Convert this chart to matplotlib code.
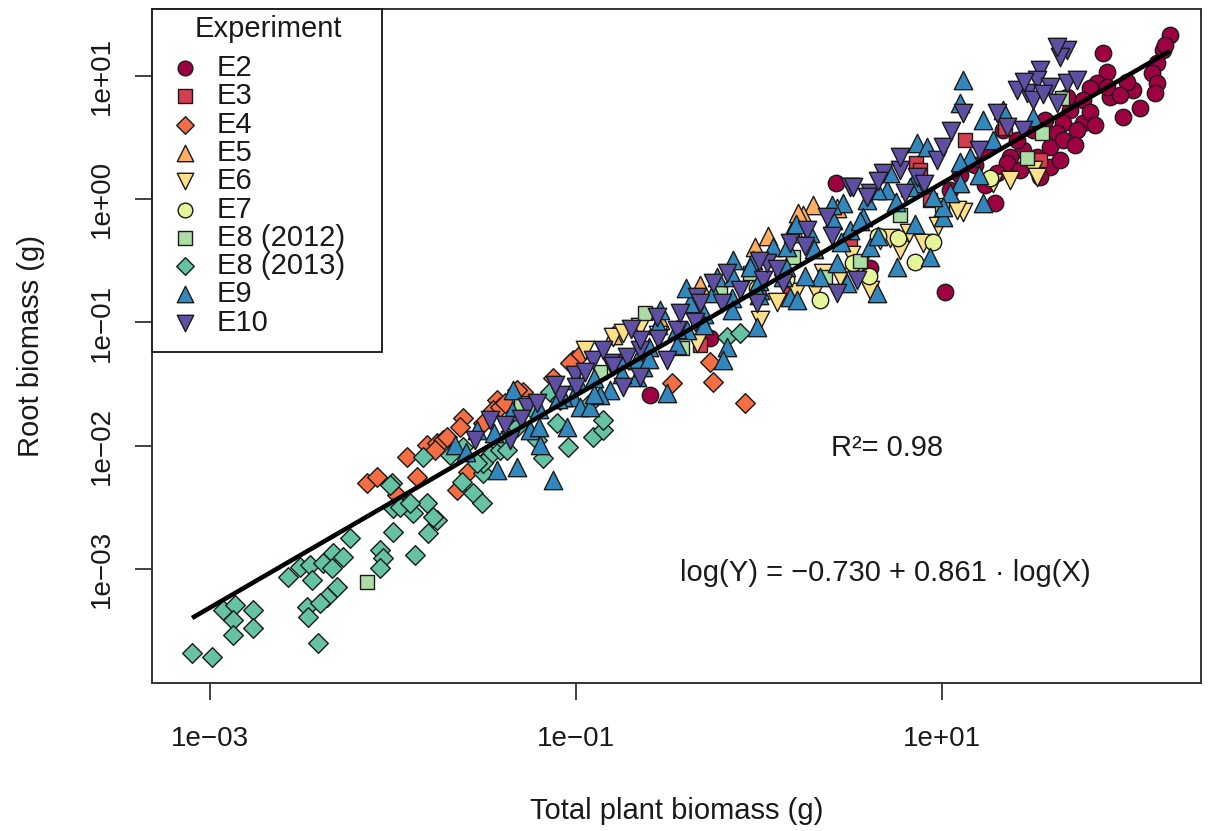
import numpy as np
import matplotlib
matplotlib.use('Agg')
import matplotlib.pyplot as plt
from matplotlib.patches import Rectangle

plt.rcParams['font.family'] = ['Liberation Sans', 'DejaVu Sans']

# ---------------- data (log10 total plant biomass, log10 root biomass) ----------------
experiments = ['E2', 'E3', 'E4', 'E5', 'E6', 'E7', 'E8 (2012)', 'E8 (2013)', 'E9', 'E10']
colors = ['#9E0142', '#D53E4F', '#F46D43', '#FDAE61', '#FEE08B',
          '#E6F598', '#ABDDA4', '#66C2A5', '#3288BD', '#5E4FA2']
markers = ['o', 's', 'D', '^', 'v', 'o', 's', 'D', '^', 'v']

E2_points = [(1.880, 1.187), (2.246, 1.333), (2.208, 1.211), (2.175, 1.105), (2.148, 1.024),
             (2.175, 0.943), (2.164, 0.862), (2.082, 0.740), (1.989, 0.667), (2.044, 0.886),
             (2.011, 0.951), (1.902, 1.032), (1.847, 0.943), (1.809, 0.903), (1.770, 0.805),
             (1.699, 0.724), (1.661, 0.619), (1.628, 0.538), (1.590, 0.424), (1.519, 0.343),
             (1.443, 0.400), (1.372, 0.343), (1.355, 0.294), (1.301, 0.213), (1.590, 0.262),
             (1.536, 0.181), (1.290, -0.030), (1.918, 0.830), (1.770, 0.619), (1.738, 0.562),
             (1.661, 0.481), (1.497, 0.562), (1.410, 0.481), (1.333, 0.562), (1.902, 0.911),
             (1.809, 0.708), (1.683, 0.830), (0.421, 0.132), (1.016, -0.753), (1.180, 0.278),
             (1.235, 0.116), (1.098, 0.197), (1.044, 0.075), (2.219, 1.252), (-0.268, -1.126),
             (0.607, -0.558), (-0.596, -1.588), (1.563, 0.643), (1.727, 0.440), (1.836, 0.602),
             (1.973, 0.846), (1.426, 0.237), (1.645, 0.318), (1.235, 0.400)]
E3_points = [(0.858, 0.294), (0.880, 0.237), (1.344, 0.578), (1.126, 0.481), (0.934, -0.006),
             (0.169, -0.736), (0.497, -0.331), (-0.322, -1.183), (1.536, 0.318)]
E4_points = [(-2.142, -2.302), (-2.087, -2.254), (-1.923, -2.091), (-1.814, -1.994), (-1.760, -1.978),
             (-1.727, -1.953), (-1.770, -2.034), (-1.617, -1.775), (-1.634, -1.848), (-1.508, -1.815),
             (-1.432, -1.629), (-1.454, -1.710), (-1.415, -1.686), (-1.290, -1.564), (-1.126, -1.450),
             (-1.016, -1.304), (-0.978, -1.264), (-1.033, -1.329), (-1.869, -2.254), (-1.978, -2.400),
             (-1.650, -2.359), (-1.590, -2.213), (-1.322, -1.548), (-1.705, -1.929), (-1.388, -1.653),
             (-0.475, -1.491), (-0.268, -1.320), (-0.251, -1.483), (-0.077, -1.653)]
E5_points = [(0.295, -0.047), (0.240, -0.128), (0.186, -0.233), (-0.022, -0.387), (0.426, -0.071),
             (0.213, -0.112), (0.186, -0.274), (-0.322, -0.696), (-0.541, -0.980), (-0.800, -1.100),
             (0.050, -0.300)]
E6_points = [(-0.798, -1.118), (-0.650, -1.037), (-0.743, -1.085), (-0.339, -1.166), (0.098, -0.834),
             (0.661, -0.331), (0.716, -0.314), (0.770, -0.412), (0.552, -0.533), (0.443, -0.631),
             (0.896, -0.355), (1.279, 0.132), (1.372, 0.156), (1.497, 0.237), (1.519, 0.181),
             (1.115, -0.103), (1.082, -0.087), (0.306, -0.736), (0.607, -0.736), (0.005, -0.980),
             (0.350, -0.600), (0.500, -0.450), (0.820, -0.270), (0.980, -0.220), (-0.950, -1.220),
             (-0.550, -1.100), (0.200, -0.750)]
E7_points = [(0.650, -0.300), (0.760, -0.314), (0.514, -0.517), (1.262, 0.172), (0.852, -0.509),
             (-0.010, -0.720), (0.333, -0.817), (0.600, -0.620), (0.950, -0.350), (0.150, -0.650)]
E8_2012_points = [(-2.142, -3.105), (-0.623, -0.923), (-0.421, -1.207), (0.186, -0.469), (0.361, -0.631),
                  (1.546, 0.538), (1.464, 0.335), (1.656, 0.822), (-0.213, -0.736), (0.770, -0.128),
                  (-0.869, -1.402), (-1.300, -1.650), (0.550, -0.500), (1.000, -0.050), (-0.050, -0.600)]
E8_2013_points = [(-3.098, -3.682), (-2.989, -3.714), (-2.929, -3.333), (-2.863, -3.292), (-2.874, -3.414),
                  (-2.874, -3.535), (-2.765, -3.333), (-2.765, -3.479), (-2.574, -3.065), (-2.508, -2.984),
                  (-2.454, -2.968), (-2.443, -3.089), (-2.470, -3.308), (-2.464, -3.389), (-2.410, -3.600),
                  (-2.383, -2.951), (-2.328, -2.870), (-2.333, -2.992), (-2.273, -2.903), (-2.235, -2.748),
                  (-2.306, -3.146), (-2.361, -3.227), (-2.399, -3.276), (-2.071, -2.846), (-2.055, -2.911),
                  (-2.071, -2.992), (-2.000, -2.700), (-1.880, -2.886), (-1.809, -2.708), (-1.814, -2.465),
                  (-1.891, -2.546), (-1.760, -2.602), (-2.000, -2.505), (-1.962, -2.497), (-2.005, -2.302),
                  (-1.907, -2.465), (-1.781, -2.578), (-1.563, -2.383), (-1.514, -2.465), (-1.623, -2.294),
                  (-1.508, -2.221), (-1.470, -2.075), (-1.415, -2.034), (-1.180, -2.099), (-1.044, -2.010),
                  (-0.907, -1.929), (-0.852, -1.872), (-0.852, -1.791), (-1.142, -1.564), (-1.087, -1.629),
                  (-1.235, -1.710), (-1.836, -2.091), (-1.689, -2.075), (-1.617, -2.010), (-1.508, -2.140),
                  (-1.399, -1.953), (-1.322, -1.848), (-2.016, -2.318), (-0.923, -1.653), (-0.175, -1.118),
                  (-0.104, -1.085), (-1.541, -2.140), (-1.377, -2.034), (-1.213, -1.953), (-1.104, -1.815)]
E9_points = [(-1.344, -1.548), (-1.541, -1.872), (-1.432, -2.197), (-1.322, -2.172), (-1.126, -2.278),
             (-1.016, -1.604), (-0.978, -1.686), (-0.923, -1.686), (-1.049, -1.848), (-0.995, -1.467),
             (-0.667, -1.442), (-0.814, -1.548), (-0.634, -1.361), (-1.071, -1.604), (-0.503, -1.572),
             (-0.667, -1.304), (-0.142, -0.493), (-0.033, -0.493), (0.077, -0.387), (-0.230, -0.631),
             (-0.251, -0.761), (-0.011, -1.037), (-0.175, -1.199), (-0.197, -1.304), (0.169, -0.793),
             (0.131, -0.631), (-0.322, -0.955), (-0.393, -1.061), (0.153, -0.387), (0.279, -0.274),
             (0.404, -0.168), (0.459, -0.030), (0.590, -0.006), (0.699, 0.075), (0.842, 0.132),
             (0.497, -0.249), (0.607, -0.387), (0.754, -0.550), (0.934, -0.469), (1.005, -0.144),
             (0.645, -0.761), (0.208, -0.817), (0.005, -0.736), (0.333, -0.631), (0.481, -0.680),
             (-0.142, -0.631), (-0.377, -0.842), (-0.541, -0.899), (0.426, -0.517), (1.115, 0.968),
             (1.098, 0.781), (1.224, 0.643), (1.333, 0.724), (1.497, 0.667), (0.863, 0.456),
             (0.918, 0.424), (0.716, 0.213), (0.645, 0.075), (1.098, 0.132), (1.044, 0.051),
             (1.224, -0.030), (1.005, -0.063), (0.825, 0.099), (1.153, 0.343), (1.279, 0.481),
             (0.568, -0.144), (-1.661, -1.994), (-1.251, -1.872), (-1.197, -1.994), (-0.869, -1.588),
             (-1.20, -1.70), (-1.20, -1.85), (-1.10, -1.62), (-0.90, -1.45), (-0.90, -1.58),
             (-0.75, -1.30), (-0.75, -1.42), (-0.60, -1.20), (-0.60, -1.30), (-0.45, -1.05),
             (-0.45, -1.18), (-0.30, -0.93), (-0.30, -1.02), (-0.15, -0.80), (-0.15, -0.90),
             (0.00, -0.66), (0.00, -0.78), (0.30, -0.40), (0.55, -0.18), (0.75, -0.02),
             (-1.60, -2.05), (-1.45, -1.90), (-1.35, -1.72), (0.15, -0.55), (0.25, -0.62),
             (0.45, -0.35), (0.65, -0.30), (0.85, -0.20), (0.95, 0.02), (1.10, 0.30),
             (1.20, 0.20), (0.40, -0.05), (0.20, -0.20), (-0.05, -0.55), (-0.40, -0.72),
             (-0.55, -1.02)]
E10_points = [(-1.268, -1.686), (-1.213, -1.653), (-1.361, -1.953), (-0.907, -1.304), (-0.814, -1.329),
              (-0.721, -1.280), (-0.743, -1.523), (-0.650, -1.223), (-0.852, -1.223), (-0.650, -1.442),
              (-0.448, -1.061), (-0.432, -0.923), (-0.339, -0.793), (-0.251, -0.680), (-0.104, -0.736),
              (0.022, -0.655), (-0.011, -0.842), (-0.503, -1.304), (-0.650, -1.142), (-0.557, -0.955),
              (-0.322, -0.842), (0.497, 0.099), (0.607, 0.051), (0.372, -0.144), (0.262, -0.249),
              (0.169, -0.355), (0.044, -0.517), (-0.175, -0.598), (0.426, -0.761), (0.770, 0.237),
              (0.863, 0.181), (0.973, 0.318), (0.536, -0.655), (0.131, -0.680), (1.683, 1.211),
              (1.645, 1.154), (1.536, 1.049), (1.519, 0.968), (1.464, 0.862), (1.410, 0.886),
              (1.590, 0.911), (1.683, 0.943), (1.628, 0.781), (1.738, 0.968), (1.497, 0.805),
              (1.355, 0.586), (1.005, 0.424), (0.770, 0.343), (0.678, 0.213), (0.514, 0.099),
              (0.590, 0.018), (1.115, 0.700), (1.443, 0.562), (1.628, 1.235), (-1.470, -1.791),
              (-1.388, -1.832), (-1.087, -1.588), (-1.005, -1.426), (-1.115, -1.507), (-1.30, -1.78),
              (-1.00, -1.52), (-0.80, -1.35), (-0.55, -1.13), (-0.20, -0.84), (0.10, -0.57),
              (0.40, -0.30), (0.90, 0.12), (1.20, 0.40), (-1.55, -1.95), (-0.95, -1.40),
              (-0.70, -1.05), (-0.35, -1.00), (0.00, -0.50), (0.25, -0.38), (0.65, 0.15),
              (1.05, 0.55), (1.30, 0.70), (1.55, 0.85), (1.45, 0.95), (0.80, 0.05)]

series_points = [E2_points, E3_points, E4_points, E5_points, E6_points,
                 E7_points, E8_2012_points, E8_2013_points, E9_points, E10_points]

fit_intercept = -0.730
fit_slope = 0.861
r_squared_text = 'R²= 0.98'
equation_text = 'log(Y) = \u22120.730 + 0.861 \u00b7 log(X)'

x_tick_values = [1e-3, 1e-1, 1e1]
x_tick_labels = ['1e\u221203', '1e\u221201', '1e+01']
y_tick_values = [1e-3, 1e-2, 1e-1, 1e0, 1e1]
y_tick_labels = ['1e\u221203', '1e\u221202', '1e\u221201', '1e+00', '1e+01']

# ---------------- figure ----------------
W, H = 1208, 831
fig = plt.figure(figsize=(W / 100, H / 100), dpi=100)
ax_l, ax_r, ax_t, ax_b = 152, 1201, 9, 683
ax = fig.add_axes([ax_l / W, 1 - ax_b / H, (ax_r - ax_l) / W, (ax_b - ax_t) / H])
ax.set_xscale('log')
ax.set_yscale('log')
ax.set_xlim(10 ** -3.317, 10 ** 2.415)
ax.set_ylim(10 ** -3.925, 10 ** 1.5436)

marker_size = {'o': 140, 's': 110, 'D': 100, '^': 175, 'v': 175}
edge_c = '#1a1a1a'
text_c = '#1a1a1a'

all_x = []
for pts, col, mk in zip(series_points, colors, markers):
    lx = np.array([p[0] for p in pts])
    ly = np.array([p[1] for p in pts])
    all_x.extend(lx)
    ax.scatter(10 ** lx, 10 ** ly, s=marker_size[mk], marker=mk, facecolor=col,
               edgecolor=edge_c, linewidths=1.0, zorder=3)

xl = np.array([min(all_x), max(all_x)])
ax.plot(10 ** xl, 10 ** (fit_intercept + fit_slope * xl), color='black', lw=3.3,
        solid_capstyle='butt', zorder=5)

ax.text(10 ** 0.699, 10 ** -2.018, r_squared_text, ha='center', va='center',
        fontsize=21, color=text_c)
ax.text(10 ** 0.689, 10 ** -3.032, equation_text, ha='center', va='center',
        fontsize=21, color=text_c)

# axes style (R base look)
for sp in ax.spines.values():
    sp.set_linewidth(1.4)
    sp.set_color('#333333')
ax.minorticks_off()
ax.set_xticks(x_tick_values)
ax.set_xticklabels(x_tick_labels)
ax.set_yticks(y_tick_values)
ax.set_yticklabels(y_tick_labels, rotation=90, va='center')
ax.tick_params(direction='out', length=12, width=1.3, colors='#333333',
               labelcolor=text_c, labelsize=20)
ax.tick_params(axis='x', pad=19)
ax.tick_params(axis='y', pad=15)
ax.tick_params(axis='x', which='minor', bottom=False)
ax.tick_params(axis='y', which='minor', left=False)

ax.set_xlabel('Total plant biomass (g)', fontsize=21, color=text_c)
ax.xaxis.set_label_coords(0.5, (ax_b - 811) / (ax_b - ax_t))
ax.xaxis.label.set_va('center')
ax.set_ylabel('Root biomass (g)', fontsize=21, color=text_c)
ax.yaxis.set_label_coords((31 - ax_l) / (ax_r - ax_l), 0.5)
ax.yaxis.label.set_va('center')

# legend drawn in axes fraction coordinates
aw, ah = ax_r - ax_l, ax_b - ax_t
def fx(px):
    return (px - ax_l) / aw
def fy(py):
    return (ax_b - py) / ah

ax.add_patch(Rectangle((0, fy(352)), fx(382), 1 - fy(352), transform=ax.transAxes,
                       facecolor='white', edgecolor='#222222', lw=1.4, zorder=8, clip_on=False))
ax.text(fx(268), fy(29), 'Experiment', transform=ax.transAxes, ha='center', va='center',
        fontsize=21, color=text_c, zorder=9)
for i, (name, col, mk) in enumerate(zip(experiments, colors, markers)):
    py = 68 + 28.3 * i
    ax.scatter([fx(185)], [fy(py)], transform=ax.transAxes, s=marker_size[mk] * 0.8, marker=mk,
               facecolor=col, edgecolor=edge_c, linewidths=1.0, zorder=9, clip_on=False)
    ax.text(fx(217), fy(py), name, transform=ax.transAxes, ha='left', va='center',
            fontsize=21, color=text_c, zorder=9)

fig.savefig('out.png', dpi=100, facecolor='white')
